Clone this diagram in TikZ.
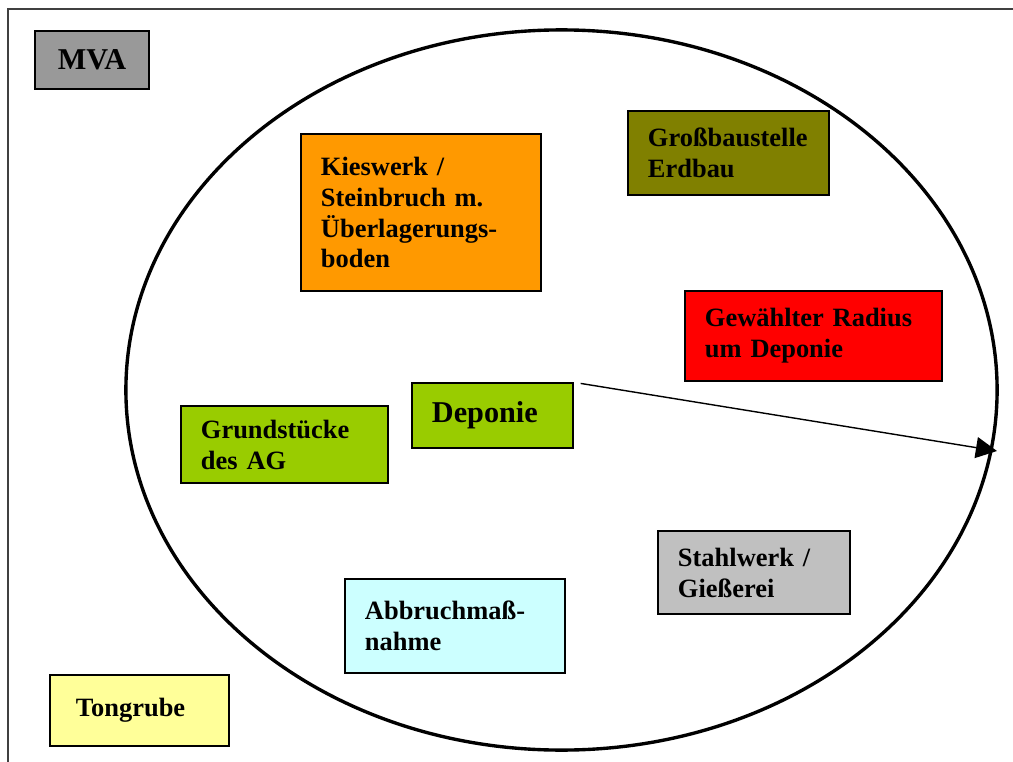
\documentclass[tikz,border=0pt]{standalone}
\usepackage{fontspec}
\setmainfont{Liberation Serif}
\usepackage{xcolor}
\usepackage{tikz}
\usetikzlibrary{arrows.meta}
\definecolor{mvagray}{RGB}{153,153,153}
\definecolor{kiesorange}{RGB}{255,153,0}
\definecolor{erdolive}{RGB}{128,128,0}
\definecolor{radiusred}{RGB}{255,0,0}
\definecolor{depgreen}{RGB}{153,204,0}
\definecolor{stahlgray}{RGB}{192,192,192}
\definecolor{abbcyan}{RGB}{204,255,255}
\definecolor{tonyellow}{RGB}{255,255,153}
\hyphenpenalty=10000
\exhyphenpenalty=10000

\begin{document}
\begin{tikzpicture}[x=0.025cm, y=-0.025cm,
    site/.style={rectangle, draw=black, line width=1pt, align=left,
        font=\bfseries\fontsize{18.8}{22}\selectfont},
    bigsite/.style={site, font=\bfseries\fontsize{21.5}{25}\selectfont}]
    \useasboundingbox (0,0) rectangle (1013,762);
    \clip (0,0) rectangle (1013,762);

    % Page frame
    \draw[black!75, line width=1.3pt] (8,9) rectangle (1040,790);

    % Radius around the landfill
    \draw[line width=2.4pt] (561.5,390) ellipse [x radius=10.8875cm, y radius=9cm];

    % Sites
    \node[bigsite, fill=mvagray, align=center, minimum width=2.85cm, minimum height=1.45cm] (mva) at (92,60) {MVA};
    \node[site, fill=kiesorange, minimum width=6cm, minimum height=3.925cm, text width=5cm] (kies) at (421,212.5) {Kieswerk /\\Steinbruch m.\\Überlagerungs-\\boden};
    \node[site, fill=erdolive, minimum width=5.025cm, minimum height=2.1cm, text width=4.025cm] (erdbau) at (728.5,153) {Großbaustelle\\Erdbau};
    \node[site, fill=radiusred, minimum width=6.425cm, minimum height=2.25cm, text width=5.425cm] (radius) at (813.5,336) {Gewählter Radius\\um Deponie};
    \node[bigsite, fill=depgreen, minimum width=4.025cm, minimum height=1.625cm, text width=3.025cm] (deponie) at (492.5,415.5) {Deponie};
    \node[site, fill=depgreen, minimum width=5.175cm, minimum height=1.925cm, text width=4.175cm] (grund) at (284.5,444.5) {Grundstücke\\des AG};
    \node[site, fill=stahlgray, minimum width=4.8cm, minimum height=2.075cm, text width=3.8cm] (stahl) at (754,572.5) {Stahlwerk /\\Gießerei};
    \node[site, fill=abbcyan, minimum width=5.5cm, minimum height=2.35cm, text width=4.5cm] (abbruch) at (455,626) {Abbruchmaß-\\nahme};
    \node[site, fill=tonyellow, minimum width=4.475cm, minimum height=1.775cm, text width=3.175cm] (ton) at (139.5,710.5) {Tongrube};

    % Radius arrow
    \coordinate (rim) at (997,451);
    \draw[-{Triangle[length=15pt, width=15pt]}, line width=1pt, shorten <=5pt] (deponie.north east) -- (rim);
\end{tikzpicture}
\end{document}
